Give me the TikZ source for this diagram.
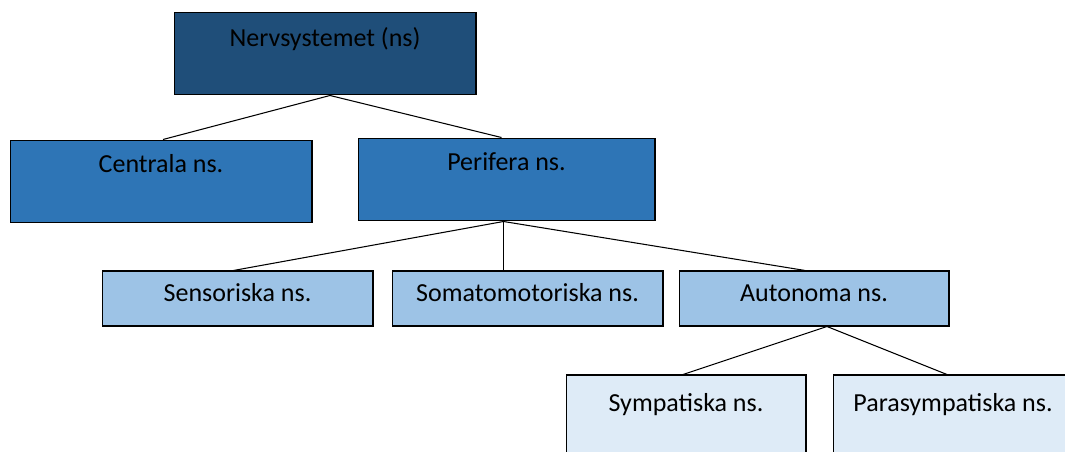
\documentclass[tikz,border=0pt]{standalone}
\usepackage{fontspec}
\setmainfont{Carlito}
\usetikzlibrary{calc,positioning}

\definecolor{nsdark}{HTML}{1F4E79}
\definecolor{nsmid}{HTML}{2E75B6}
\definecolor{nslight}{HTML}{9DC3E6}
\definecolor{nspale}{HTML}{DEEBF7}

\begin{document}
\begin{tikzpicture}[x=0.02cm, y=-0.02cm,
        box/.style={draw=black, line width=0.6pt, inner ysep=0pt, inner xsep=2pt,
            font=\fontsize{14.8}{17}\selectfont},
        toplevel/.style={box, fill=nsdark, minimum width=6.04cm, text height=19.9pt, text depth=27.3pt},
        mainlevel/.style={box, fill=nsmid, text height=18.2pt, text depth=29pt},
        sublevel/.style={box, fill=nslight, minimum width=5.42cm, text height=17.6pt, text depth=13.7pt},
        leaflevel/.style={box, fill=nspale, minimum width=4.80cm, text height=21pt, text depth=30.2pt},
        link/.style={draw=black, line width=0.6pt}]
    \useasboundingbox (0,0) rectangle (1065,452);

    % boxes
    \node[toplevel] (ns) at (325,53.5) {Nervsystemet (ns)};
    \node[mainlevel, minimum width=6.04cm] (cns) at (161,181.5) {Centrala ns.};
    \node[mainlevel, minimum width=5.94cm] (pns) at (506.5,179.5) {Perifera ns.};
    \node[sublevel] (sens) at (237.5,298.5) {Sensoriska ns.};
    \node[sublevel] (som) at (527.5,298.5) {Somatomotoriska ns.};
    \node[sublevel, minimum width=5.40cm] (aut) at (814,298.5) {Autonoma ns.};
    \node[leaflevel] (sym) at (686,420) {Sympatiska ns.};
    \node[leaflevel] (par) at (953,420) {Parasympatiska ns.};

    % connectors
    \draw[link] ($(ns.south)+(5,0)$) -- ($(cns.north)+(2,0)$);
    \draw[link] ($(ns.south)+(5,0)$) -- ($(pns.north)+(-5,0)$);
    \draw[link] ($(pns.south)+(-3,0)$) -- ($(sens.north)+(-4,0)$);
    \draw[link] ($(pns.south)+(-3,0)$) -- ($(pns.south |- som.north)+(-3,0)$);
    \draw[link] ($(pns.south)+(-3,0)$) -- ($(aut.north)+(-9,0)$);
    \draw[link] ($(aut.south)+(13,0)$) -- ($(sym.north)+(-3,0)$);
    \draw[link] ($(aut.south)+(13,0)$) -- ($(par.north)+(-6,0)$);
\end{tikzpicture}
\end{document}
